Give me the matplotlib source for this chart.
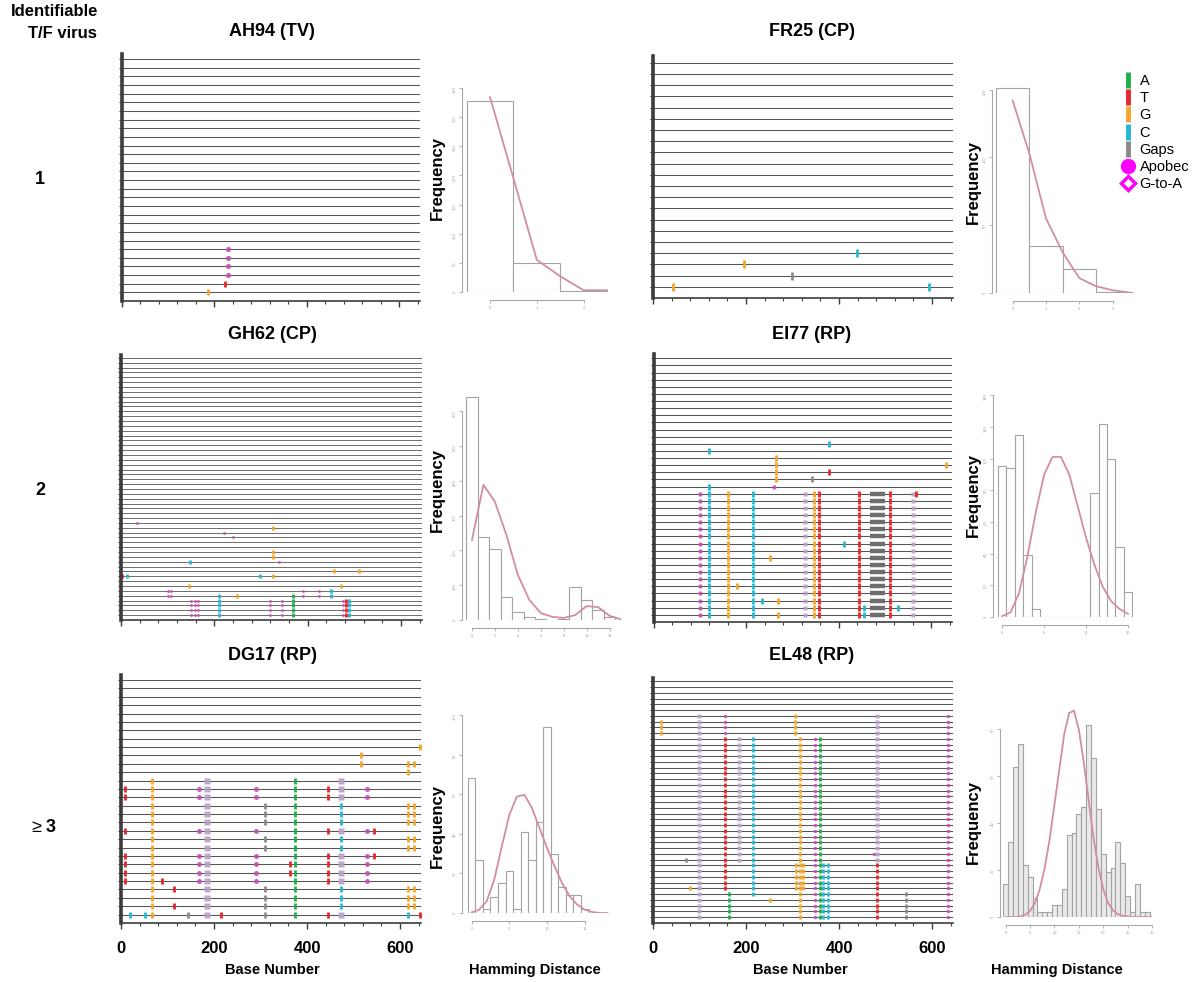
import numpy as np
import matplotlib
matplotlib.use("Agg")
import matplotlib.pyplot as plt
from matplotlib.lines import Line2D
from matplotlib.ticker import MultipleLocator


def rows(a, b):
    # sequences a..b (inclusive) carry the same mutation
    return list(range(a, b + 1))


# Data -------------------------------------------------------------------

# Highlighter plots: (base position, kind, sequences that carry it)
# kinds: A T G C = base changes, N = gap, P = apobec, Q = apobec + gap

AH94_N = 28
AH94_MUT = [(186, "G", [1]), (222, "T", [2]), (229, "P", rows(3, 6))]

FR25_N = 21
FR25_MUT = [(43, "G", [1]), (195, "G", [3]), (298, "N", [2]),
            (439, "C", [4]), (594, "C", [1])]

GH62_N = 54
GH62_MUT = [
    (34, "P", [20]), (12, "C", [9]), (2, "T", [9]),
    (100, "P", [5, 6]), (108, "P", [5, 6]),
    (148, "C", [12]), (145, "G", [7]),
    (150, "P", rows(1, 4)), (158, "P", rows(1, 4)), (166, "P", rows(1, 4)),
    (209, "C", rows(1, 5)),
    (220, "P", [18]), (241, "P", [17]), (249, "G", [5]),
    (298, "C", [9]), (326, "G", [19, 14, 13, 9]), (338, "P", [12]),
    (319, "P", rows(1, 4)), (345, "P", rows(1, 4)), (369, "A", rows(1, 5)),
    (391, "P", [5, 6]), (424, "P", [5, 6]), (451, "C", [5, 6]),
    (457, "G", [10]), (471, "G", [7]),
    (475, "P", rows(1, 4)), (482, "T", rows(1, 4)), (489, "C", rows(1, 4)),
    (511, "G", [10]),
]

EI77_N = 37
EI77_MUT = [
    (99, "P", rows(1, 18)),
    (120, "C", rows(1, 19)), (120, "C", [24]),
    (160, "G", rows(1, 18)), (180, "G", [5]),
    (214, "C", rows(1, 18)), (234, "C", [3]), (251, "G", [9]),
    (260, "P", [19]), (264, "G", rows(20, 23)), (269, "G", [1, 3]),
    (327, "Q", rows(1, 18)), (342, "N", [20]),
    (346, "G", rows(1, 18)), (357, "T", rows(1, 18)),
    (378, "C", [25]), (378, "T", [21]), (411, "C", [11]),
    (443, "T", rows(1, 18)), (454, "C", [1, 2]),
    (511, "T", rows(1, 18)), (529, "C", [2]),
    (560, "Q", rows(1, 18)), (566, "T", [18]),
    (633, "G", [22]),
]
EI77_GAPS = [(468, 500, rows(1, 18))]

DG17_N = 29
DG17_MUT = [
    (9, "T", [5, 6, 7, 8, 11, 15, 16]),
    (20, "C", [1]), (52, "C", [1]),
    (66, "G", rows(1, 17)),
    (88, "T", [5]), (115, "T", [2, 4]), (145, "N", [1]),
    (167, "P", [5, 6, 7, 8, 11, 15, 16]),
    (185, "Q", rows(1, 17)),
    (214, "T", [1]),
    (291, "P", [5, 6, 7, 8, 11, 15, 16]),
    (310, "N", [1, 2, 3, 4, 9, 10, 12, 13, 14]),
    (363, "T", [6, 7]),
    (375, "A", rows(1, 17)),
    (446, "T", [1, 5, 6, 7, 8, 11, 15, 16]),
    (473, "C", [2, 3, 4, 9, 10, 12, 13, 14]),
    (473, "Q", [1, 5, 6, 7, 8, 11, 15, 16, 17]),
    (515, "G", [19, 20]),
    (529, "P", [5, 6, 7, 8, 11, 15, 16]),
    (543, "T", [8, 11]),
    (618, "G", [2, 3, 4, 9, 10, 12, 13, 14, 18, 19]),
    (629, "G", [2, 3, 4, 9, 10, 12, 13, 14, 19]),
    (643, "G", [21]), (643, "T", [1]), (618, "C", [1]),
]

EL48_N = 42
EL48_MUT = [
    (18, "G", [33, 34, 35]), (72, "N", [11]), (79, "G", [6]),
    (99, "Q", rows(1, 36)),
    (154, "T", rows(6, 32)), (154, "P", rows(33, 36)),
    (163, "A", rows(1, 5)),
    (185, "Q", rows(11, 32)),
    (214, "C", rows(5, 32)),
    (251, "G", [4]),
    (305, "G", rows(33, 36)), (307, "G", rows(6, 10)),
    (315, "G", rows(1, 32)), (322, "G", rows(6, 10)),
    (348, "P", rows(1, 32)),
    (358, "A", rows(1, 32)),
    (365, "C", rows(1, 10)), (377, "C", rows(1, 10)),
    (476, "P", [12]),
    (482, "T", rows(1, 10)), (482, "Q", rows(11, 36)),
    (545, "N", rows(1, 5)),
    (634, "P", rows(1, 36)),
]

# Hamming distance histograms + fitted curve
AH94_HD = [0, 1, 2]
AH94_FREQ = [327, 50, 1]
AH94_FIT_X = [0, 0.5, 1, 1.5, 2, 2.5]
AH94_FIT_Y = [334, 195, 55, 27, 3, 3]

FR25_HD = [0, 1, 2, 3]
FR25_FREQ = [151, 35, 18, 1]
FR25_FIT_X = [0, 0.5, 1, 1.5, 2, 2.5, 3, 3.6]
FR25_FIT_Y = [142, 103, 55, 30, 11, 5, 2, 0]

GH62_HD = list(range(0, 13))
GH62_FREQ = [640, 239, 205, 66, 23, 9, 3, 0, 3, 95, 58, 29, 9]
GH62_FIT_X = list(range(0, 14))
GH62_FIT_Y = [230, 389, 340, 245, 130, 58, 20, 9, 6, 14, 40, 37, 12, 2]

EI77_HD = list(range(0, 16))
EI77_FREQ = [95, 94, 115, 39, 5, 0, 0, 0, 0, 0, 0, 78, 122, 100, 44, 16]
EI77_FIT_X = list(range(0, 16))
EI77_FIT_Y = [0.5, 3, 15, 38, 66, 90, 101, 101, 90, 70, 50, 33, 19, 10, 5, 2]

DG17_HD = list(range(0, 16))
DG17_FREQ = [68, 27, 2, 8, 15, 21, 2, 41, 27, 46, 94, 30, 13, 9, 9, 2]
DG17_FIT_X = list(range(0, 19))
DG17_FIT_Y = [0.3, 1.7, 5.9, 16.8, 33.6, 49.6, 58.8, 59.7, 53, 42.9, 32.8,
              23.5, 15, 8.4, 4.2, 1.7, 0.5, 0, 0]

EL48_HD = list(range(0, 30))
EL48_FREQ = [14, 32, 64, 74, 22, 17, 8, 2, 2, 2, 5, 5, 12, 35, 36, 44, 47,
             82, 68, 46, 27, 19, 21, 32, 23, 9, 2, 14, 2, 2]
EL48_FIT_X = list(range(0, 31))
EL48_FIT_Y = [0, 0, 0, 0.2, 1, 2.6, 6, 12, 21, 33, 48, 63, 78, 87, 88, 80,
              66, 50, 34, 21, 12, 6, 2.8, 1.2, 0.5, 0.2, 0, 0, 0, 0, 0]

LEGEND_LABELS = ["A", "T", "G", "C", "Gaps", "Apobec", "G-to-A"]


# Style ------------------------------------------------------------------

W, H = 1200, 982
XMAX = 645

plt.rcParams["font.family"] = ["Liberation Sans", "DejaVu Sans"]

STYLE = {
    "A": dict(marker="|", color="#1fae4b"),
    "T": dict(marker="|", color="#e5262b"),
    "G": dict(marker="|", color="#f4a52a"),
    "C": dict(marker="|", color="#26b6d6"),
    "N": dict(marker="|", color="#8a8a8a"),
    "P": dict(marker="o", color="#c34fb3"),
    "Q": dict(marker="s", color="#b7a1c6"),
}


def px_axes(fig, x0, y0, x1, y1):
    return fig.add_axes([x0 / W, 1 - y1 / H, (x1 - x0) / W, (y1 - y0) / H])


def highlighter(ax, n_seq, muts, gaps=(), labels=False):
    ax.set_xlim(0, XMAX)
    ax.set_ylim(0, n_seq + 0.6)
    ax.hlines(range(1, n_seq + 1), 0, XMAX, color="#555555",
              lw=0.75 if n_seq < 45 else 0.6)

    spacing = ax.get_position().height * H / (n_seq + 0.6)
    ms = spacing * 0.72 * 0.8

    for start, end, seqs in gaps:
        ax.hlines(seqs, start, end, color="#6e6e6e", lw=spacing * 0.45)

    for pos, kind, seqs in muts:
        st = STYLE[kind]
        if st["marker"] == "|":
            ax.plot([pos] * len(seqs), seqs, ls="none", marker="|",
                    color=st["color"], ms=ms, mew=2.0)
        else:
            ax.plot([pos] * len(seqs), seqs, ls="none", marker=st["marker"],
                    color=st["color"], mec="none",
                    ms=min(ms * 0.75, 4.0), alpha=0.9)

    for s in ["top", "right"]:
        ax.spines[s].set_visible(False)
    ax.spines["left"].set_linewidth(2.6)
    ax.spines["left"].set_color("#3c3c3c")
    ax.spines["bottom"].set_linewidth(1.2)
    ax.spines["bottom"].set_color("#3c3c3c")

    ax.xaxis.set_major_locator(MultipleLocator(200))
    ax.xaxis.set_minor_locator(MultipleLocator(40))
    ax.set_yticks(range(1, n_seq + 1))
    ax.tick_params(axis="x", which="major", length=4, width=1.0,
                   color="#3c3c3c", labelbottom=labels, labelsize=12,
                   pad=9)
    ax.tick_params(axis="x", which="minor", length=2.5, width=0.8,
                   color="#3c3c3c")
    ax.tick_params(axis="y", length=2.5, width=0.7, color="#3c3c3c",
                   labelleft=False)
    if labels:
        for t in ax.get_xticklabels():
            t.set_fontweight("bold")


def hamming(ax, hd, freq, fit_x, fit_y, xlim, ylim, xticks, yticks,
            fill="white"):
    ax.bar(hd, freq, width=1.0, color=fill, edgecolor="#a3a3a3", lw=0.8)
    ax.plot(fit_x, fit_y, color="#d38e9e", lw=1.3)
    ax.set_xlim(*xlim)
    ax.set_ylim(*ylim)
    ax.set_xticks(xticks)
    ax.set_yticks(yticks)
    for s in ["top", "right"]:
        ax.spines[s].set_visible(False)
    for s in ["left", "bottom"]:
        ax.spines[s].set_color("#a8a8a8")
        ax.spines[s].set_linewidth(0.8)
    ax.spines["left"].set_bounds(yticks[0], yticks[-1])
    ax.spines["bottom"].set_position(("outward", 6))
    ax.spines["bottom"].set_bounds(xticks[0], xticks[-1])
    ax.tick_params(length=2.5, width=0.6, color="#a8a8a8",
                   labelsize=3, labelcolor="#a0a0a0", pad=1.5)
    ax.tick_params(axis="y", labelrotation=90)
    ax.patch.set_alpha(0)


# Plotting ---------------------------------------------------------------

fig = plt.figure(figsize=(W / 100, H / 100), dpi=100)

# highlighter panels
highlighter(px_axes(fig, 122, 54, 420, 301), AH94_N, AH94_MUT)
highlighter(px_axes(fig, 653, 56, 953, 298), FR25_N, FR25_MUT)
highlighter(px_axes(fig, 121, 355, 422, 620), GH62_N, GH62_MUT)
highlighter(px_axes(fig, 654, 354, 952, 622), EI77_N, EI77_MUT, EI77_GAPS)
highlighter(px_axes(fig, 121, 675, 421, 923), DG17_N, DG17_MUT, labels=True)
highlighter(px_axes(fig, 653, 678, 953, 923), EL48_N, EL48_MUT, labels=True)

# hamming distance panels
hamming(px_axes(fig, 462, 85, 614, 292), AH94_HD, AH94_FREQ,
        AH94_FIT_X, AH94_FIT_Y, (-0.6, 2.65), (0, 355),
        [0, 1, 2], list(range(0, 351, 50)))
hamming(px_axes(fig, 992, 87, 1136, 293), FR25_HD, FR25_FREQ,
        FR25_FIT_X, FR25_FIT_Y, (-0.62, 3.7), (0, 152),
        [0, 1, 2, 3], [0, 50, 100, 150])
hamming(px_axes(fig, 462, 394, 621, 620), GH62_HD, GH62_FREQ,
        GH62_FIT_X, GH62_FIT_Y, (-0.87, 13), (0, 650),
        list(range(0, 13, 2)), list(range(0, 601, 100)))
hamming(px_axes(fig, 993, 392, 1133, 617), EI77_HD, EI77_FREQ,
        EI77_FIT_X, EI77_FIT_Y, (-1.1, 15.6), (0, 142),
        [0, 5, 10, 15], list(range(0, 141, 20)))
hamming(px_axes(fig, 462, 715, 612, 913), DG17_HD, DG17_FREQ,
        DG17_FIT_X, DG17_FIT_Y, (-1.27, 18.6), (0, 100),
        [0, 5, 10, 15], list(range(0, 101, 20)))
hamming(px_axes(fig, 1000, 706, 1152, 917), EL48_HD, EL48_FREQ,
        EL48_FIT_X, EL48_FIT_Y, (-1.17, 30), (0, 90),
        list(range(0, 31, 5)), list(range(0, 81, 20)), fill="#e9e9e9")


# Texts ------------------------------------------------------------------

def ftext(x, y, s, **kw):
    fig.text(x / W, 1 - y / H, s, ha="center", va="center", **kw)


ftext(55, 11, "Identifiable", fontsize=12, fontweight="bold")
ftext(62, 34, "T/F virus", fontsize=12, fontweight="bold")
ftext(40, 180, "1", fontsize=13, fontweight="bold")
ftext(40, 490, "2", fontsize=13, fontweight="bold")
ftext(36, 827, "\u2265", fontsize=13)
ftext(51, 827, "3", fontsize=13, fontweight="bold")

for x, y, s in [(272, 32, "AH94 (TV)"), (812, 32, "FR25 (CP)"),
                (272, 335, "GH62 (CP)"), (812, 335, "EI77 (RP)"),
                (272, 655, "DG17 (RP)"), (812, 655, "EL48 (RP)")]:
    ftext(x, y, s, fontsize=13, fontweight="bold")

for x, y in [(437, 178), (973, 182), (437, 490), (973, 495),
             (437, 826), (973, 822)]:
    ftext(x, y, "Frequency", fontsize=12, fontweight="bold", rotation=90)

ftext(272, 970, "Base Number", fontsize=10.5, fontweight="bold")
ftext(800, 970, "Base Number", fontsize=10.5, fontweight="bold")
ftext(535, 970, "Hamming Distance", fontsize=10.5, fontweight="bold")
ftext(1057, 970, "Hamming Distance", fontsize=10.5, fontweight="bold")

# legend
handles = [Line2D([], [], ls="none", marker="|", ms=12, mew=3.5,
                  color=STYLE[k]["color"]) for k in ["A", "T", "G", "C"]]
handles.append(Line2D([], [], ls="none", marker="|", ms=12, mew=3.5,
                      color="#8a8a8a"))
handles.append(Line2D([], [], ls="none", marker="o", ms=10,
                      color="#ff00ff"))
handles.append(Line2D([], [], ls="none", marker="D", ms=7.5, mfc="white",
                      mec="#ff00ff", mew=2.5))
fig.legend(handles, LEGEND_LABELS, loc="upper left",
           bbox_to_anchor=(1122 / W, 1 - 74 / H), frameon=False,
           fontsize=10.5, handlelength=0.8, handletextpad=0.4,
           labelspacing=0.22, borderpad=0, borderaxespad=0)

fig.savefig("out.png", dpi=100, facecolor="white")
